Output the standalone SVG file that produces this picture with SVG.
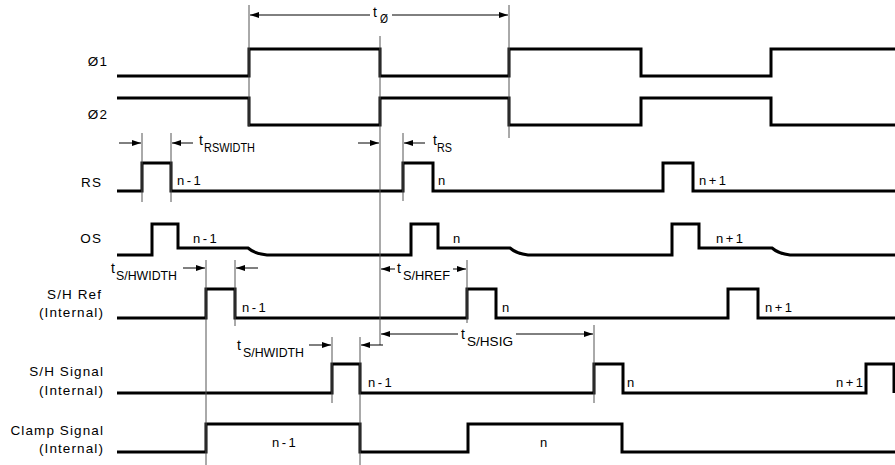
<svg xmlns="http://www.w3.org/2000/svg" width="895" height="465" viewBox="0 0 895 465">
<style>
.sig{fill:none;stroke:#000;stroke-width:3;stroke-linejoin:miter;stroke-linecap:butt}
.ref{stroke:#555;stroke-width:1;fill:none}
.dim{stroke:#000;stroke-width:1;fill:none;marker-end:url(#ah)}
text{font-family:"Liberation Sans",Arial,sans-serif;font-size:13.5px;fill:#000;letter-spacing:1.1px}
.lab{text-anchor:end}
.n{font-size:13px;letter-spacing:2.5px}
.t{font-size:14px;letter-spacing:0}
.sub{font-size:12.5px;letter-spacing:0}
</style>
<defs>
<marker id="ah" markerUnits="userSpaceOnUse" markerWidth="10" markerHeight="6" refX="9" refY="3" orient="auto">
<path d="M0,0 L9,3 L0,6 z" fill="#000"/>
</marker>
</defs>
<rect width="895" height="465" fill="#fff"/>

<g id="phi1">
<text class="lab" x="108" y="66">Ø1</text>
<path class="sig" d="M117,76 H249 V49 H380 V76 H509 V49 H641 V76 H771 V49 H895"/>
</g>
<g id="phi2">
<text class="lab" x="108" y="119">Ø2</text>
<path class="sig" d="M117,98 H249 V125 H380 V98 H509 V125 H641 V98 H771 V125 H895"/>
</g>
<g id="rs">
<text class="lab" x="102" y="187">RS</text>
<path class="sig" d="M117,191 H142 V163 H171 V191 H403 V163 H433 V191 H663 V163 H693 V191 H895"/>
<text class="n" x="177" y="185">n-1</text>
<text class="n" x="438" y="185">n</text>
<text class="n" x="699" y="185">n+1</text>
</g>
<g id="os">
<text class="lab" x="102" y="243">OS</text>
<path class="sig" d="M117,255 H152 V224 H178 V248 H248 Q255,254 267,255 H411 V224 H438 V248 H510 Q517,254 528,255 H672 V224 H699 V248 H772 Q779,254 790,255 H895"/>
<text class="n" x="193" y="243">n-1</text>
<text class="n" x="453" y="243">n</text>
<text class="n" x="716" y="243">n+1</text>
</g>
<g id="shref">
<text class="lab" x="102" y="299">S/H Ref</text>
<text class="lab" x="104" y="317">(Internal)</text>
<path class="sig" d="M117,318 H206 V289 H235 V318 H467 V289 H496 V318 H728 V289 H758 V318 H895"/>
<text class="n" x="242" y="312">n-1</text>
<text class="n" x="502" y="312">n</text>
<text class="n" x="765" y="312">n+1</text>
</g>
<g id="shsig">
<text class="lab" x="104" y="376">S/H Signal</text>
<text class="lab" x="104" y="395">(Internal)</text>
<path class="sig" d="M117,393 H332 V364 H360 V393 H594 V364 H623 V393 H866 V364 H894 V393"/>
<text class="n" x="368" y="387">n-1</text>
<text class="n" x="627" y="387">n</text>
<text class="n" x="836" y="387">n+1</text>
</g>
<g id="clamp">
<text class="lab" x="104" y="435">Clamp Signal</text>
<text class="lab" x="104" y="453">(Internal)</text>
<path class="sig" d="M117,452 H206 V424 H360 V452 H468 V424 H622 V452 H895"/>
<text class="n" x="272" y="447">n-1</text>
<text class="n" x="540" y="447">n</text>
</g>

<g id="connectors">
<line class="ref" x1="249" y1="5" x2="249" y2="127"/>
<line class="ref" x1="509" y1="5" x2="509" y2="138"/>
<line class="ref" x1="380" y1="36" x2="380" y2="345"/>
<line class="ref" x1="142" y1="133" x2="142" y2="202"/>
<line class="ref" x1="171" y1="133" x2="171" y2="202"/>
<line class="ref" x1="403" y1="133" x2="403" y2="201"/>
<line class="ref" x1="206" y1="260" x2="206" y2="465"/>
<line class="ref" x1="235" y1="260" x2="235" y2="326"/>
<line class="ref" x1="467" y1="260" x2="467" y2="323"/>
<line class="ref" x1="332" y1="337" x2="332" y2="403"/>
<line class="ref" x1="360" y1="337" x2="360" y2="465"/>
<line class="ref" x1="594" y1="325" x2="594" y2="403"/>

<line class="dim" x1="370" y1="15" x2="250" y2="15"/>
<line class="dim" x1="392" y1="15" x2="508" y2="15"/>
<line class="dim" x1="119" y1="143" x2="141" y2="143"/>
<line class="dim" x1="193" y1="143" x2="172" y2="143"/>
<line class="dim" x1="358" y1="143" x2="379" y2="143"/>
<line class="dim" x1="425" y1="143" x2="404" y2="143"/>
<line class="dim" x1="183" y1="268" x2="205" y2="268"/>
<line class="dim" x1="258" y1="268" x2="236" y2="268"/>
<line class="dim" x1="395" y1="269" x2="381" y2="269"/>
<line class="dim" x1="453" y1="269" x2="466" y2="269"/>
<line class="dim" x1="309" y1="345" x2="331" y2="345"/>
<line class="dim" x1="383" y1="345" x2="361" y2="345"/>
<line class="dim" x1="458" y1="334" x2="381" y2="334"/>
<line class="dim" x1="516" y1="334" x2="593" y2="334"/>
</g>

<g id="timing-labels">
<text class="t" x="373" y="17">t</text><text class="sub" x="380" y="23" textLength="8" lengthAdjust="spacingAndGlyphs">Ø</text>
<text class="t" x="199" y="145">t</text><text class="sub" x="204" y="152" textLength="51" lengthAdjust="spacingAndGlyphs">RSWIDTH</text>
<text class="t" x="433" y="145">t</text><text class="sub" x="437" y="152" textLength="15" lengthAdjust="spacingAndGlyphs">RS</text>
<text class="t" x="111" y="273">t</text><text class="sub" x="116" y="280" textLength="61" lengthAdjust="spacingAndGlyphs">S/HWIDTH</text>
<text class="t" x="397" y="273">t</text><text class="sub" x="403" y="280" textLength="47" lengthAdjust="spacingAndGlyphs">S/HREF</text>
<text class="t" x="237" y="350">t</text><text class="sub" x="243" y="357" textLength="61" lengthAdjust="spacingAndGlyphs">S/HWIDTH</text>
<text class="t" x="461" y="339">t</text><text class="sub" x="467" y="346" textLength="46" lengthAdjust="spacingAndGlyphs">S/HSIG</text>
</g>
</svg>
